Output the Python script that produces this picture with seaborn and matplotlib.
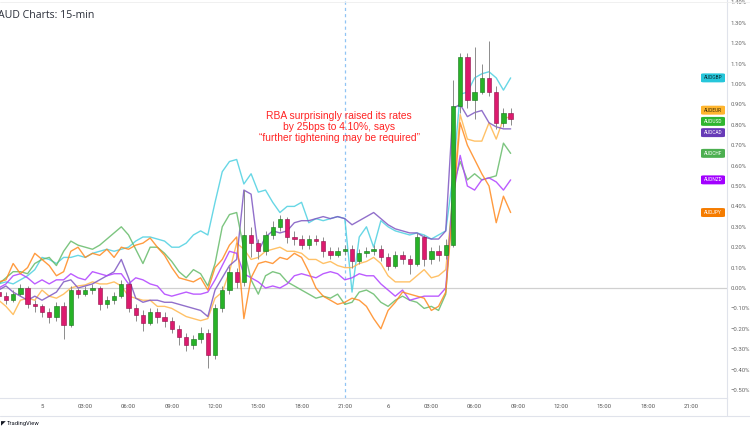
import matplotlib
matplotlib.use("Agg")
import matplotlib.pyplot as plt
import matplotlib.patches as mpatches
import matplotlib.transforms as mtrans
from matplotlib.lines import Line2D
import numpy as np
import pandas as pd
import seaborn as sns

# hours after 00:00 on the 5th, one point every 30 min (21:00 on the 4th .. 08:30 on the 6th)
hours = list(np.arange(-3.0, 32.75, 0.5))

# % change series
audgbp = [0.02, 0.03, 0.02, 0.04, 0.06, 0.09, 0.15, 0.14, 0.12, 0.15, 0.15, 0.16,
          0.15, 0.17, 0.18, 0.19, 0.18, 0.19, 0.20, 0.23, 0.25, 0.25, 0.24, 0.23,
          0.20, 0.20, 0.22, 0.26, 0.28, 0.26, 0.42, 0.57, 0.62, 0.63, 0.51, 0.56,
          0.47, 0.48, 0.42, 0.37, 0.40, 0.40, 0.42, 0.32, 0.34, 0.33, 0.34, 0.35,
          0.34, -0.02, 0.25, 0.30, 0.20, 0.33, 0.30, 0.28, 0.27, 0.26, 0.27, 0.26,
          0.24, 0.26, 0.28, 0.55, 0.95, 0.96, 1.03, 1.05, 1.06, 1.03, 0.97, 1.03]
audeur = [-0.06, -0.09, -0.13, -0.06, -0.05, -0.06, -0.01, -0.04, -0.05, -0.03, 0.00, 0.01,
          0.015, 0.03, 0.02, 0.02, 0.03, 0.01, -0.04, -0.05, -0.06, -0.06, -0.09, -0.09,
          -0.10, -0.12, -0.14, -0.15, -0.16, -0.15, -0.05, -0.02, 0.08, 0.22, 0.19, 0.14,
          0.15, 0.18, 0.19, 0.20, 0.18, 0.18, 0.17, 0.14, 0.14, 0.12, 0.13, 0.11,
          0.10, 0.10, 0.12, 0.13, 0.15, 0.12, 0.06, 0.03, 0.03, 0.03, 0.06, 0.09,
          0.05, 0.06, 0.09, 0.45, 0.85, 0.73, 0.72, 0.72, 0.81, 0.73, 0.83, 0.84]
audcad = [-0.01, 0.01, -0.02, -0.04, -0.06, -0.04, -0.06, -0.04, -0.02, 0.03, 0.04, 0.00,
          0.01, 0.02, 0.04, 0.06, 0.08, 0.14, 0.05, -0.05, -0.07, -0.06, -0.06, -0.07,
          -0.07, -0.08, -0.09, -0.10, -0.11, -0.14, -0.01, 0.05, 0.11, 0.14, 0.48, 0.46,
          0.18, 0.25, 0.28, 0.27, 0.28, 0.32, 0.33, 0.33, 0.34, 0.35, 0.34, 0.35,
          0.34, 0.31, 0.33, 0.35, 0.37, 0.34, 0.31, 0.29, 0.28, 0.27, 0.27, 0.25,
          0.24, 0.24, 0.28, 0.88, 0.90, 0.84, 0.86, 0.87, 0.81, 0.79, 0.78, 0.78]
audchf = [0.02, 0.05, 0.08, 0.08, 0.07, 0.12, 0.14, 0.15, 0.11, 0.18, 0.23, 0.21,
          0.20, 0.19, 0.21, 0.24, 0.27, 0.30, 0.26, 0.19, 0.12, 0.20, 0.20, 0.17,
          0.13, 0.08, 0.05, 0.09, 0.07, 0.01, 0.12, 0.30, 0.36, 0.37, 0.19, 0.04,
          -0.03, 0.06, 0.08, 0.07, 0.03, 0.01, -0.01, -0.03, -0.05, -0.04, -0.05, -0.03,
          -0.08, -0.07, -0.02, -0.01, -0.03, -0.07, -0.09, -0.06, -0.04, -0.06, -0.07, -0.10,
          -0.09, -0.11, -0.03, 0.50, 0.62, 0.53, 0.56, 0.53, 0.54, 0.55, 0.71, 0.66]
audnzd = [0.00, 0.02, 0.06, 0.07, 0.05, 0.02, 0.04, 0.02, 0.04, 0.04, 0.07, 0.05,
          0.04, 0.08, 0.07, 0.06, 0.07, 0.07, 0.02, 0.05, 0.04, 0.02, 0.01, -0.03,
          -0.04, -0.03, -0.02, -0.03, -0.03, -0.02, 0.04, 0.11, 0.18, 0.17, 0.07, 0.05,
          0.03, 0.00, 0.01, 0.00, 0.02, 0.06, 0.07, 0.06, 0.05, 0.07, 0.08, 0.07,
          0.04, 0.05, 0.07, 0.06, 0.06, 0.02, -0.01, -0.04, -0.01, -0.06, -0.05, -0.04,
          -0.04, -0.04, 0.00, 0.45, 0.65, 0.50, 0.48, 0.53, 0.54, 0.52, 0.48, 0.53]
audjpy = [0.03, 0.04, 0.12, 0.07, 0.10, 0.17, 0.14, 0.11, 0.06, 0.08, 0.18, 0.20,
          0.15, 0.17, 0.16, 0.19, 0.15, 0.20, 0.19, 0.21, 0.22, 0.245, 0.20, 0.16,
          0.10, 0.05, 0.04, 0.03, 0.05, -0.01, 0.10, 0.14, 0.21, 0.25, -0.15, 0.05,
          0.12, 0.13, 0.12, 0.15, 0.14, 0.17, 0.15, 0.08, 0.00, -0.04, -0.06, -0.08,
          -0.07, -0.05, -0.06, -0.09, -0.15, -0.20, -0.11, -0.07, -0.02, -0.03, -0.04, -0.05,
          -0.11, -0.09, -0.02, 0.40, 0.81, 0.70, 0.63, 0.56, 0.50, 0.32, 0.45, 0.37]

# AUD/USD candles (open of each bar = previous close)
usd_first_open = -0.02
usd_close = [-0.04, -0.06, -0.03, 0.00, -0.08, -0.09, -0.12, -0.14, -0.09, -0.18, -0.01, -0.03,
             -0.01, 0.00, -0.08, -0.06, -0.04, 0.02, -0.10, -0.13, -0.17, -0.12, -0.14, -0.16,
             -0.20, -0.24, -0.28, -0.25, -0.22, -0.33, -0.10, -0.01, 0.08, 0.03, 0.26, 0.22,
             0.18, 0.26, 0.30, 0.34, 0.25, 0.24, 0.21, 0.24, 0.23, 0.18, 0.16, 0.18,
             0.19, 0.13, 0.17, 0.18, 0.19, 0.15, 0.11, 0.16, 0.14, 0.12, 0.25, 0.14,
             0.18, 0.16, 0.21, 0.89, 1.13, 0.92, 0.96, 1.03, 0.96, 0.81, 0.86, 0.83]
usd_high = [0.00, -0.02, -0.01, 0.02, 0.01, -0.06, -0.08, -0.10, -0.07, -0.07, 0.01, 0.00,
            0.01, 0.02, 0.01, -0.04, -0.02, 0.04, 0.03, -0.08, -0.11, -0.10, -0.10, -0.12,
            -0.14, -0.18, -0.22, -0.23, -0.19, -0.20, -0.08, 0.01, 0.11, 0.10, 0.48, 0.30,
            0.24, 0.28, 0.33, 0.36, 0.35, 0.28, 0.26, 0.26, 0.26, 0.25, 0.20, 0.20,
            0.21, 0.21, 0.19, 0.20, 0.21, 0.21, 0.17, 0.18, 0.18, 0.16, 0.27, 0.26,
            0.20, 0.21, 0.24, 1.02, 1.15, 1.15, 1.18, 1.10, 1.21, 0.99, 0.88, 0.88]
usd_low = [-0.06, -0.08, -0.07, -0.04, -0.10, -0.12, -0.14, -0.17, -0.16, -0.25, -0.19, -0.05,
           -0.04, -0.03, -0.11, -0.10, -0.08, -0.05, -0.12, -0.16, -0.21, -0.18, -0.17, -0.19,
           -0.22, -0.28, -0.31, -0.30, -0.27, -0.39, -0.35, -0.12, -0.03, 0.00, 0.01, 0.15,
           0.14, 0.16, 0.24, 0.28, 0.22, 0.21, 0.19, 0.19, 0.21, 0.15, 0.14, 0.15,
           0.16, 0.10, 0.12, 0.15, 0.16, 0.13, 0.09, 0.10, 0.12, 0.07, 0.11, 0.11,
           0.12, 0.13, 0.14, 0.20, 0.86, 0.88, 0.83, 0.95, 0.94, 0.78, 0.79, 0.80]

pairs = ["AUDGBP", "AUDEUR", "AUDCAD", "AUDCHF", "AUDNZD", "AUDJPY"]
line_colors = {"AUDGBP": "#4dd0e1", "AUDEUR": "#ffb74d", "AUDCAD": "#7e57c2",
               "AUDCHF": "#66bb6a", "AUDNZD": "#b040ff", "AUDJPY": "#ff8a1f"}
tag_colors = {"AUDGBP": ("#26c6da", "#0d2b33"), "AUDEUR": ("#ffb52e", "#3a2a00"),
              "AUDUSD": ("#2fb52f", "white"), "AUDCAD": ("#673ab7", "white"),
              "AUDCHF": ("#4caf50", "white"), "AUDNZD": ("#a200ff", "white"),
              "AUDJPY": ("#f57c00", "white")}

series = {"AUDGBP": audgbp, "AUDEUR": audeur, "AUDCAD": audcad,
          "AUDCHF": audchf, "AUDNZD": audnzd, "AUDJPY": audjpy}
df = pd.concat([pd.DataFrame({"hour": hours, "chg": v, "pair": k}) for k, v in series.items()],
               ignore_index=True)

sns.set_style("white")
plt.rcParams["font.family"] = ["Roboto", "DejaVu Sans"]

W, H = 750, 430
fig = plt.figure(figsize=(7.5, 4.3), dpi=100)
ax = fig.add_axes([0, 1 - 398 / H, 727 / W, 398 / H])

# zero line
ax.axhline(0, color="#d0d0d0", lw=0.9, zorder=1)
# session marker
ax.axvline(21, color="#90c4f4", lw=0.9, ls=(0, (2.5, 2.5)), zorder=1)

sns.lineplot(data=df, x="hour", y="chg", hue="pair", hue_order=pairs, palette=line_colors,
             linewidth=1.0, alpha=0.85, legend=False, estimator=None, sort=False, ax=ax, zorder=2)

# candles
opens = [usd_first_open] + usd_close[:-1]
o = np.array(opens)
c = np.array(usd_close)
up = c >= o
body_col = np.where(up, "#27b327", "#dc1a6e")
edge_col = np.where(up, "#17721a", "#8e0f47")
ax.vlines(hours, usd_low, usd_high, color="#8c8c8c", lw=0.7, zorder=3)
ax.bar(hours, np.maximum(np.abs(c - o), 0.006), bottom=np.minimum(o, c), width=0.3,
       color=body_col, edgecolor=edge_col, linewidth=0.4, zorder=4)

ax.set_xlim(-42 / 14.42, (727 - 42) / 14.42)
ax.set_ylim((288 - 398) / 204, 288 / 204)
ax.set_xlabel("")
ax.set_ylabel("")

xt = list(range(0, 46, 3))
xl = ["5" if t == 0 else "6" if t == 24 else "%02d:00" % (t % 24) for t in xt]
ax.set_xticks(xt)
ax.set_xticklabels(xl)
yt = np.round(np.arange(-0.5, 1.41, 0.1), 2)
ax.yaxis.tick_right()
ax.set_yticks(yt)
ax.set_yticklabels([("%.2f%%" % v).replace("-", "\u2212") if abs(v) > 1e-9 else "0.00%" for v in yt])
ax.tick_params(axis="x", length=0, pad=4.5, labelsize=4.3, labelcolor="#555555")
ax.tick_params(axis="y", length=0, pad=2.5, labelsize=4.3, labelcolor="#666666")
for s in ["left", "top"]:
    ax.spines[s].set_visible(False)
for s in ["right", "bottom"]:
    ax.spines[s].set_color("#e0e3eb")
    ax.spines[s].set_linewidth(0.8)

# frame lines outside the plot
fig.add_artist(Line2D([0, 1], [1 - 416 / H] * 2, color="#e0e3eb", lw=0.8))
fig.add_artist(Line2D([727 / W] * 2, [1 - 416 / H, 1 - 398 / H], color="#e0e3eb", lw=0.8))
fig.add_artist(Line2D([0, 1], [1 - 2 / H] * 2, color="#eeeeee", lw=0.6))

# price tags on the right, spread apart where they overlap
last = {k: v[-1] for k, v in series.items()}
last["AUDUSD"] = usd_close[-1]
names = sorted(last, key=lambda k: -last[k])
pos = [last[k] for k in names]
gap = 0.055
for _ in range(200):
    for i in range(len(pos) - 1):
        d = pos[i] - pos[i + 1]
        if d < gap:
            pos[i] += (gap - d) / 2
            pos[i + 1] -= (gap - d) / 2
trans = mtrans.blended_transform_factory(ax.transAxes, ax.transData)
for name, y in zip(names, pos):
    fc, tc = tag_colors[name]
    ax.add_patch(mpatches.FancyBboxPatch((701 / 727, y - 0.022), 24 / 727, 0.044,
                                         boxstyle="round,pad=0,rounding_size=0.004",
                                         transform=trans, facecolor=fc, edgecolor="none",
                                         zorder=6, clip_on=False))
    ax.text(713 / 727, y, name, transform=trans, ha="center", va="center",
            fontsize=3.4, color=tc, zorder=7)

# note
ax.text(20.6, (288 - 127) / 204,
        "RBA surprisingly raised its rates\nby 25bps to 4.10%, says\n\u201cfurther tightening may be required\u201d",
        ha="center", va="center", fontsize=7.4, color="#ff2424", linespacing=1.12,
        family=["Liberation Sans", "DejaVu Sans"], zorder=5)

fig.text(-0.002, 1 - 15 / H, "AUD Charts: 15-min", fontsize=7.6, color="#2a2e39",
         ha="left", va="center", family=["Open Sans", "DejaVu Sans"])
fig.text(0.001, 1 - 424 / H, "\u25e4", fontsize=4.5, color="#131722", ha="left", va="center",
         family=["DejaVu Sans"])
fig.text(0.009, 1 - 424 / H, "TradingView", fontsize=4.2, color="#131722", ha="left", va="center")

fig.savefig("out.png", dpi=100, facecolor="white")
